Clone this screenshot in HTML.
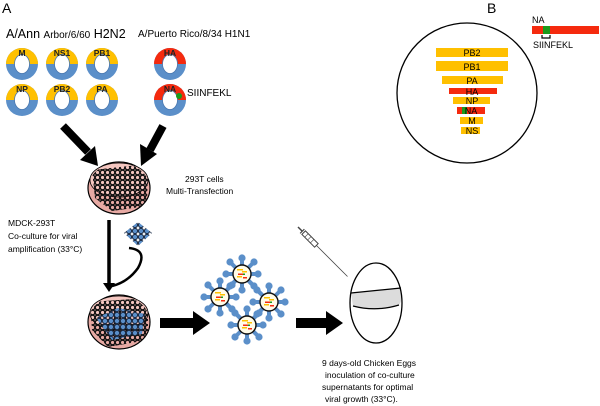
<!DOCTYPE html>
<html><head><meta charset="utf-8"><style>
html,body{margin:0;padding:0;background:#fff;}
svg{display:block;font-family:"Liberation Sans",Arial,sans-serif;}
</style></head><body>
<svg width="600" height="406" viewBox="0 0 600 406" xmlns="http://www.w3.org/2000/svg">
<defs>
<pattern id="cells" width="5" height="5" patternUnits="userSpaceOnUse">
<circle cx="2.5" cy="2.5" r="2.3" fill="none" stroke="#111" stroke-width="1.4"/>
</pattern>
<pattern id="bcells" width="6" height="6" patternUnits="userSpaceOnUse">
<circle cx="3" cy="3" r="2.6" fill="#5b8fc9" stroke="#1a2a44" stroke-width="1"/>
</pattern>
<clipPath id="d1"><ellipse cx="119" cy="188" rx="31" ry="25"/></clipPath>
<clipPath id="d2"><ellipse cx="119" cy="322" rx="31" ry="26"/></clipPath>
<g id="plasY">
<ellipse rx="16" ry="16" fill="#5b8fc9"/>
<path d="M-16 0 A16 16 0 0 1 16 0 Z" fill="#ffc000"/>
<ellipse rx="7.5" ry="9.5" fill="#fff" stroke="#4a78b0" stroke-width="0.8"/>
</g>
<g id="plasR">
<ellipse rx="16" ry="16" fill="#5b8fc9"/>
<path d="M-16 0 A16 16 0 0 1 16 0 Z" fill="#f52a0e"/>
<ellipse rx="7.5" ry="9.5" fill="#fff" stroke="#4a78b0" stroke-width="0.8"/>
</g>
<g id="virus">
<g stroke="#5b8fc9" stroke-width="4" stroke-linecap="round">
<line x1="0" y1="0" x2="0" y2="-16"/><line x1="0" y1="0" x2="0" y2="16"/>
<line x1="0" y1="0" x2="16" y2="0"/><line x1="0" y1="0" x2="-16" y2="0"/>
<line x1="0" y1="0" x2="12" y2="12"/><line x1="0" y1="0" x2="-12" y2="12"/>
<line x1="0" y1="0" x2="12" y2="-12"/><line x1="0" y1="0" x2="-12" y2="-12"/>
</g>
<g fill="#5b8fc9"><circle cx="0" cy="-16" r="3.6"/><circle cx="0" cy="16" r="3.6"/><circle cx="16" cy="0" r="3.6"/><circle cx="-16" cy="0" r="3.6"/>
<circle cx="12" cy="12" r="3.6"/><circle cx="-12" cy="12" r="3.6"/><circle cx="12" cy="-12" r="3.6"/><circle cx="-12" cy="-12" r="3.6"/></g>
<circle r="9" fill="#fffbe8" stroke="#111" stroke-width="1.4"/>
<rect x="-5" y="-5" width="6" height="1.5" fill="#ffc000"/><rect x="0" y="-3" width="5" height="1.5" fill="#ffc000"/>
<rect x="-4" y="-0.5" width="6" height="1.5" fill="#f52a0e"/><rect x="1" y="-0.5" width="2" height="1.5" fill="#1a9a1a"/>
<rect x="-5" y="2" width="5" height="1.5" fill="#ffc000"/><rect x="1" y="3" width="4" height="1.5" fill="#f52a0e"/>
</g>
</defs>

<text x="2" y="13" font-size="14">A</text>
<text x="6" y="38" font-size="12.5">A/Ann <tspan font-size="10">Arbor/6/60</tspan> H2N2</text>
<text x="138" y="37" font-size="10">A/Puerto Rico/8/34 H1N1</text>

<use href="#plasY" x="22" y="64"/><use href="#plasY" x="62" y="64"/><use href="#plasY" x="102" y="64"/>
<use href="#plasY" x="22" y="100"/><use href="#plasY" x="62" y="100"/><use href="#plasY" x="102" y="100"/>
<use href="#plasR" x="170" y="64"/><use href="#plasR" x="170" y="100"/>
<circle cx="179" cy="96" r="3" fill="#1a9a1a"/>
<g font-size="8.5" font-weight="bold" text-anchor="middle" fill="#222">
<text x="22" y="56">M</text><text x="62" y="56">NS1</text><text x="102" y="56">PB1</text>
<text x="22" y="92">NP</text><text x="62" y="92">PB2</text><text x="102" y="92">PA</text>
<text x="170" y="56">HA</text><text x="170" y="92">NA</text></g>
<text x="187" y="96" font-size="10">SIINFEKL</text>

<line x1="63" y1="126" x2="88" y2="152" stroke="#000" stroke-width="8"/>
<polygon points="80,160 98,166 95,146" fill="#000"/>
<line x1="163" y1="126" x2="150" y2="150" stroke="#000" stroke-width="8"/>
<polygon points="140,144 157,154 141,166" fill="#000"/>

<ellipse cx="119" cy="188" rx="31" ry="26" fill="#e8aaa4" stroke="#000" stroke-width="1.2"/>
<ellipse cx="119" cy="180" rx="29" ry="17" fill="#f4c6c0" stroke="#000" stroke-width="0.8"/>
<g clip-path="url(#d1)"><path d="M92 170 L148 164 L147 206 L112 211 L95 198 Z" fill="url(#cells)"/></g>
<text x="185" y="182" font-size="8.5">293T cells</text>
<text x="166" y="194" font-size="8.5">Multi-Transfection</text>

<text x="8" y="226" font-size="8.5">MDCK-293T</text>
<text x="8" y="239" font-size="8.5">Co-culture for viral</text>
<text x="8" y="252" font-size="8.5">amplification (33°C)</text>
<line x1="109" y1="220" x2="109" y2="284" stroke="#000" stroke-width="3.5"/>
<polygon points="103,283 115,283 109,292" fill="#000"/>
<polygon points="138,222 152,233 138,246 124,233" fill="url(#bcells)"/>
<path d="M129 248 Q148 250 138 268 Q128 282 112 286" fill="none" stroke="#000" stroke-width="2.5"/>

<ellipse cx="119" cy="322" rx="31" ry="27" fill="#e8aaa4" stroke="#000" stroke-width="1.2"/>
<ellipse cx="119" cy="313" rx="29" ry="17" fill="#f4c6c0" stroke="#000" stroke-width="0.8"/>
<g clip-path="url(#d2)"><path d="M90 302 L148 298 L148 340 L108 347 L92 330 Z" fill="url(#cells)"/>
<path d="M96 318 L118 308 L145 314 L142 334 L112 340 Z" fill="url(#bcells)"/></g>

<rect x="160" y="318" width="35" height="10" fill="#000"/><polygon points="193,311 210,323 193,335" fill="#000"/>
<rect x="296" y="318" width="32" height="10" fill="#000"/><polygon points="326,311 343,323 326,335" fill="#000"/>

<path d="M242 274 L220 297 L247 325 L269 302 Z" fill="none" stroke="#5b8fc9" stroke-width="4"/>
<use href="#virus" x="242" y="274"/><use href="#virus" x="220" y="297"/>
<use href="#virus" x="269" y="302"/><use href="#virus" x="247" y="325"/>

<g transform="translate(298,227) rotate(45)">
<line x1="0" y1="0" x2="6" y2="0" stroke="#444" stroke-width="1.5"/>
<line x1="6" y1="-3" x2="6" y2="3" stroke="#444" stroke-width="1.2"/>
<rect x="8" y="-2.5" width="18" height="5" fill="#fff" stroke="#444" stroke-width="1"/>
<line x1="12" y1="-2.5" x2="12" y2="2.5" stroke="#444" stroke-width="0.6"/><line x1="16" y1="-2.5" x2="16" y2="2.5" stroke="#444" stroke-width="0.6"/><line x1="20" y1="-2.5" x2="20" y2="2.5" stroke="#444" stroke-width="0.6"/>
<line x1="26" y1="0" x2="70" y2="0" stroke="#444" stroke-width="0.8"/>
</g>

<path d="M351 293 L401 288 Q403 300 399 305 Q376 312 353 306 Z" fill="#dcdcdc"/>
<ellipse cx="376" cy="303" rx="26" ry="40" fill="none" stroke="#000" stroke-width="1.3"/>
<line x1="351" y1="293" x2="401" y2="288" stroke="#000" stroke-width="1.2"/>
<path d="M353 306 Q376 312 399 305" fill="none" stroke="#000" stroke-width="1.2"/>

<g font-size="8.5"><text x="322" y="366">9 days-old Chicken Eggs</text>
<text x="325" y="378">inoculation of co-culture</text>
<text x="322" y="390">supernatants  for optimal</text>
<text x="325" y="402">viral growth (33°C).</text></g>

<text x="487" y="13" font-size="14">B</text>
<circle cx="467" cy="93" r="70" fill="none" stroke="#000" stroke-width="1.3"/>
<g font-size="9" text-anchor="middle">
<rect x="436" y="48" width="72" height="9" fill="#ffc000"/><text x="472" y="56">PB2</text>
<rect x="436" y="61" width="72" height="10" fill="#ffc000"/><text x="472" y="70">PB1</text>
<rect x="442" y="76" width="61" height="8" fill="#ffc000"/><text x="472" y="84">PA</text>
<rect x="449" y="88" width="48" height="6" fill="#f52a0e"/><text x="472" y="95">HA</text>
<rect x="453" y="97" width="37" height="7" fill="#ffc000"/><text x="472" y="104">NP</text>
<rect x="457" y="107" width="28" height="7" fill="#f52a0e"/><rect x="462" y="107" width="5" height="7" fill="#1a9a1a"/><text x="471" y="114">NA</text>
<rect x="460" y="117" width="23" height="7" fill="#ffc000"/><text x="472" y="124">M</text>
<rect x="461" y="127" width="19" height="7" fill="#ffc000"/><text x="472" y="134">NS</text>
</g>
<text x="532" y="23" font-size="9">NA</text>
<rect x="532" y="26" width="67" height="8" fill="#f52a0e"/><rect x="543" y="26" width="7" height="8" fill="#1a9a1a"/>
<path d="M542 35 V38 H550 V35" fill="none" stroke="#000" stroke-width="1.2"/>
<text x="533" y="48" font-size="9">SIINFEKL</text>
</svg>
</body></html>
